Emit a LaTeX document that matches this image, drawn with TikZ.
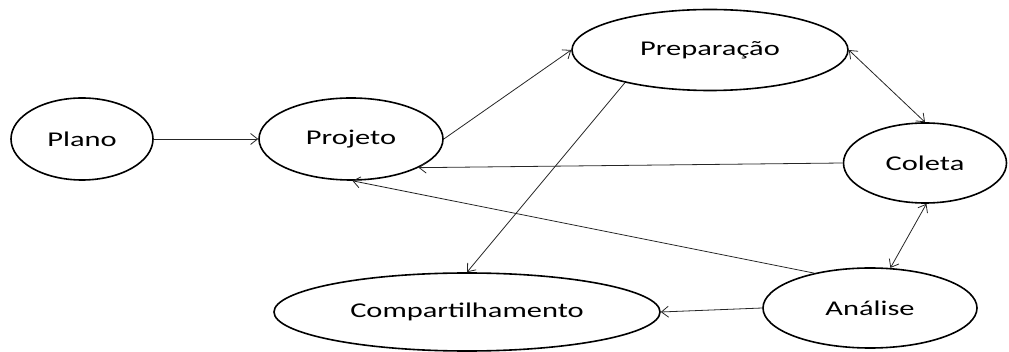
\documentclass[tikz,border=0pt]{standalone}
\usepackage{fontspec}
\setmainfont{Carlito}
\usetikzlibrary{shapes.geometric,arrows.meta}
\newcommand{\wtxt}[1]{\scalebox{1.45}[1]{\fontsize{21}{24}\selectfont #1}}
\tikzset{
  stage/.style={ellipse, draw=black, line width=1.6pt, inner sep=0pt, fill=white},
  conn/.style={line width=0.8pt, draw=black!85, -{Straight Barb[length=7pt,width=11pt,line width=0.8pt]}},
  conn2/.style={line width=0.8pt, draw=black!85, {Straight Barb[length=7pt,width=11pt,line width=0.8pt]}-{Straight Barb[length=7pt,width=11pt,line width=0.8pt]}}
}
\begin{document}
\begin{tikzpicture}[x=1pt,y=-1pt]
\useasboundingbox (0,0) rectangle (1009,352);
\node[stage, minimum width=142pt, minimum height=82pt] (plano) at (82,139) {\wtxt{Plano}};
\node[stage, minimum width=184pt, minimum height=82pt] (projeto) at (351,139) {\wtxt{Projeto}};
\node[stage, minimum width=276pt, minimum height=81pt] (prep) at (710,50) {\wtxt{Preparação}};
\node[stage, minimum width=163pt, minimum height=80pt] (coleta) at (925,163) {\wtxt{Coleta}};
\node[stage, minimum width=214pt, minimum height=80pt] (analise) at (870,308) {\wtxt{Análise}};
\node[stage, minimum width=386pt, minimum height=78pt] (comp) at (467,312) {\wtxt{Compartilhamento}};
\draw[conn] (plano) -- (projeto);
\draw[conn] (projeto.east) -- (prep.west);
\draw[conn2] (prep.east) -- (coleta.north);
\draw[conn] (coleta.west) -- (projeto.-23);
\draw[conn] (analise.148) -- (projeto.-88);
\draw[conn] (prep.201) -- (comp.north);
\draw[conn2] (coleta.-88) -- (analise.63);
\draw[conn] (analise.west) -- (comp.east);
\end{tikzpicture}
\end{document}
